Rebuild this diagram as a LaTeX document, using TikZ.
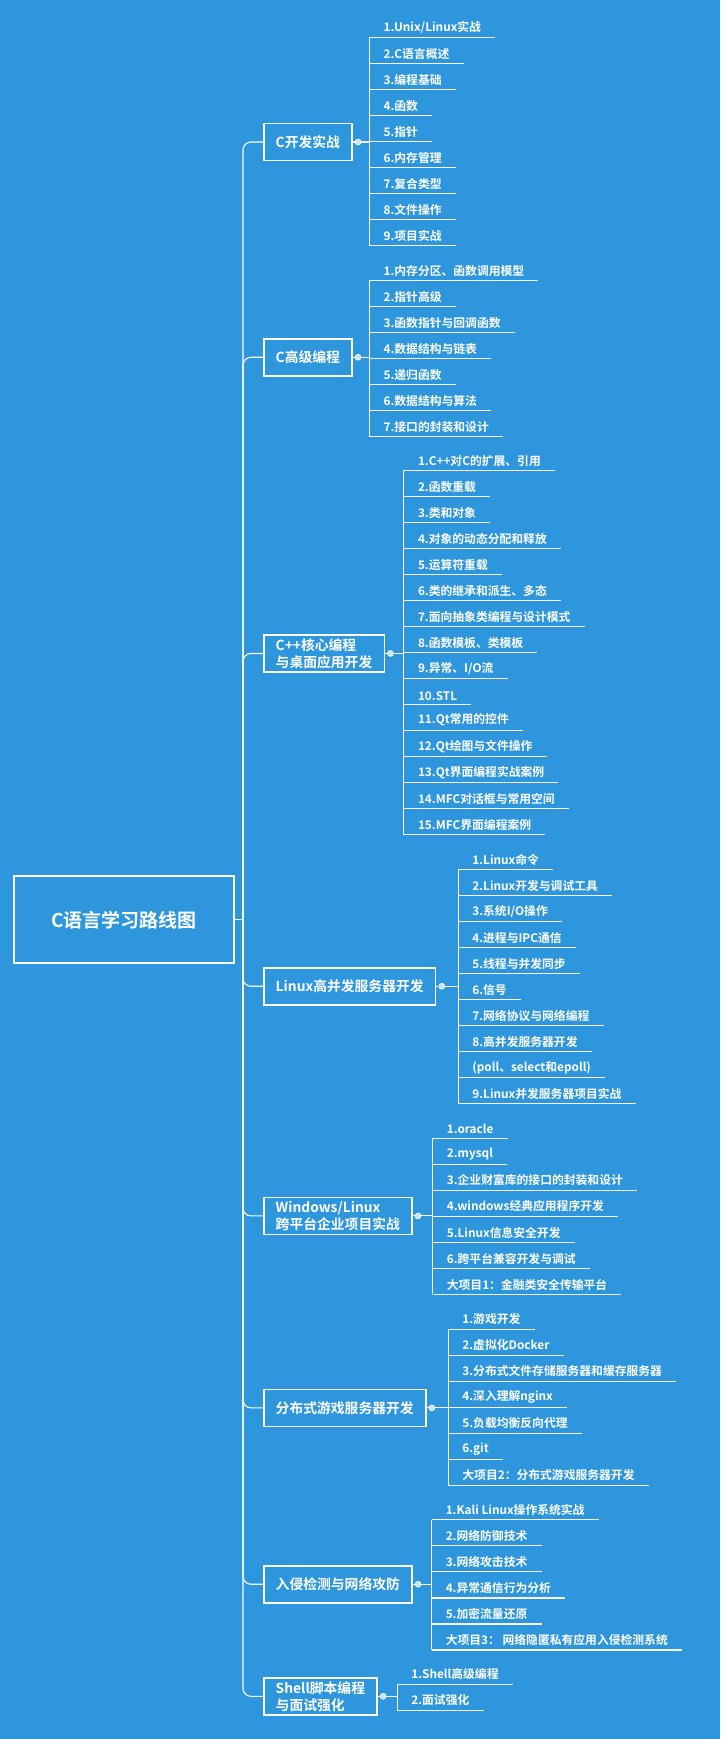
\documentclass[tikz,border=0pt]{standalone}
\usepackage{fontspec}
\setmainfont{Noto Sans CJK SC}[BoldFont={* Bold}]
\usetikzlibrary{positioning}
\definecolor{bgblue}{RGB}{45,150,221}

\tikzset{
  root/.style={draw=white, line width=2.2pt, text=white, font=\bfseries\fontsize{19}{22}\selectfont,
    minimum width=220pt, minimum height=87pt},
  topic/.style={draw=white, line width=1.6pt, text=white, font=\bfseries\fontsize{13.8}{17}\selectfont,
    anchor=west, align=left, inner xsep=12pt, minimum height=37pt},
  leaf/.style={text=white, font=\bfseries\fontsize{11.8}{14}\selectfont, anchor=south west,
    inner xsep=14pt, inner ysep=4pt},
  knob/.style={circle, draw=white, fill=white!75!bgblue, line width=0.6pt, inner sep=0pt, minimum size=6pt},
  wire/.style={white, line width=1.1pt}
}

\begin{document}
\begin{tikzpicture}[x=1.1094pt, y=-1.1094pt]
  \fill[bgblue] (0,0) rectangle (649,1567.5);
  \useasboundingbox (0,0) rectangle (649,1567.5);

  \node[root] (rt) at (112,829) {C语言学习路线图};

  % topics
  \node[topic] (c1) at (237,128) {C开发实战};
  \node[topic] (c2) at (237,322) {C高级编程};
  \node[topic] (c3) at (237,589) {C++核心编程\\与桌面应用开发};
  \node[topic] (c4) at (237,889) {Linux高并发服务器开发};
  \node[topic] (c5) at (237,1096) {Windows/Linux\\跨平台企业项目实战};
  \node[topic] (c6) at (237,1269) {分布式游戏服务器开发};
  \node[topic] (c7) at (237,1428) {入侵检测与网络攻防};
  \node[topic] (c8) at (237,1529) {Shell脚本编程\\与面试强化};

  % trunk
  \coordinate (tr) at (219,829);
  \draw[wire] (rt.east) -- (tr);
  \foreach \c in {c1,c2,c3,c4,c5,c6,c7,c8}
    \draw[wire, rounded corners=8pt] (tr) |- (\c.west);

  % leaves
  \foreach \g/\x/\y/\items in {
    1/333/34/{1.Unix/Linux实战,2.C语言概述,3.编程基础,4.函数,5.指针,6.内存管理,7.复合类型,8.文件操作,9.项目实战},
    2/333/253/{1.内存分区、函数调用模型,2.指针高级,3.函数指针与回调函数,4.数据结构与链表,5.递归函数,6.数据结构与算法,7.接口的封装和设计},
    3/364/424/{1.C++对C的扩展、引用,2.函数重载,3.类和对象,4.对象的动态分配和释放,5.运算符重载,6.类的继承和派生、多态,7.面向抽象类编程与设计模式,8.函数模板、类模板,9.异常、I/O流,10.STL,11.Qt常用的控件,12.Qt绘图与文件操作,13.Qt界面编程实战案例,14.MFC对话框与常用空间,15.MFC界面编程案例},
    4/413/784/{1.Linux命令,2.Linux开发与调试工具,3.系统I/O操作,4.进程与IPC通信,5.线程与并发同步,6.信号,7.网络协议与网络编程,8.高并发服务器开发,(poll、select和epoll),9.Linux并发服务器项目实战},
    5/390/1026/{1.oracle,2.mysql,3.企业财富库的接口的封装和设计,4.windows经典应用程序开发,5.Linux信息安全开发,6.跨平台兼容开发与调试,大项目1：金融类安全传输平台},
    6/404/1198/{1.游戏开发,2.虚拟化Docker,3.分布式文件存储服务器和缓存服务器,4.深入理解nginx,5.负载均衡反向代理,6.git,大项目2：分布式游戏服务器开发},
    7/389/1370/{1.Kali Linux操作系统实战,2.网络防御技术,3.网络攻击技术,4.异常通信行为分析,5.加密流量还原,大项目3： 网络隐匿私有应用入侵检测系统},
    8/358/1518/{1.Shell高级编程,2.面试强化}} {
    \foreach \t [count=\i] in \items {
      \node[leaf] (g\g-\i) at (\x,\y+23.45*\i-23.45) {\t};
      \draw[wire] (g\g-\i.south west) -- (g\g-\i.south east);
      \xdef\last{\i}
    }
    \draw[wire] (g\g-1.south west) -- (g\g-\last.south west);
    \node[knob, right=2pt of c\g] (k\g) {};
    \draw[wire] (c\g.east) -- (k\g);
    \draw[wire] (k\g) -- (k\g -| g\g-1.south west);
  }
\end{tikzpicture}
\end{document}
